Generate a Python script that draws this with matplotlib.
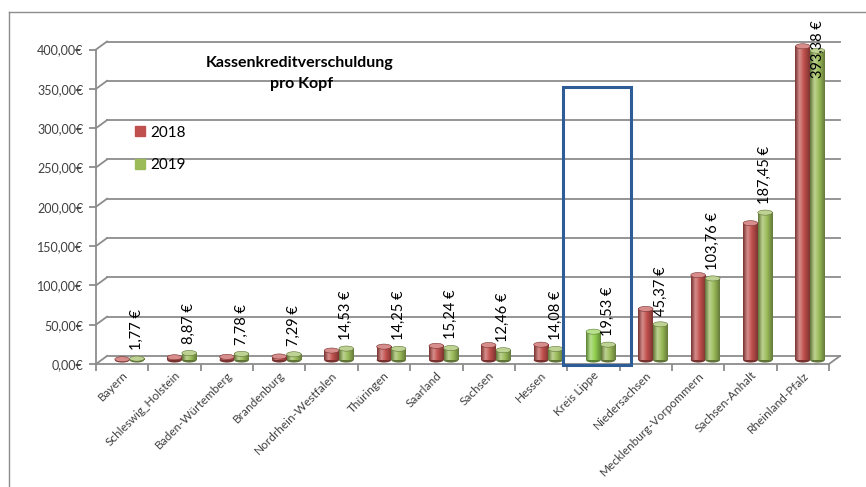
import matplotlib
matplotlib.use("Agg")
import matplotlib.pyplot as plt
import numpy as np
from matplotlib.patches import Ellipse, Rectangle
from matplotlib.lines import Line2D
from matplotlib.colors import to_rgb
import matplotlib.transforms as mtrans

plt.rcParams['font.family'] = ['Lato', 'DejaVu Sans']

categories = ["Bayern", "Schleswig_Holstein", "Baden-Würtemberg", "Brandenburg",
              "Nordrhein-Westfalen", "Thüringen", "Saarland", "Sachsen", "Hessen",
              "Kreis Lippe", "Niedersachsen", "Mecklenburg-Vorpommern",
              "Sachsen-Anhalt", "Rheinland-Pfalz"]
values_2018 = [1.0, 3.5, 4.0, 4.5, 12.0, 17.0, 18.0, 19.0, 19.5, 36.0, 65.0, 108.0, 174.0, 399.0]
values_2019 = [1.77, 8.87, 7.78, 7.29, 14.53, 14.25, 15.24, 12.46, 14.08, 19.53, 45.37, 103.76, 187.45, 393.38]
yticks = [0, 50, 100, 150, 200, 250, 300, 350, 400]
series_names = ["2018", "2019"]
highlight = "Kreis Lippe"

RED = "#C0504D"
GREEN = "#9BBB59"
BRIGHT = "#92D050"
GRID = "#8C8C8C"
TXT = "#404040"

W, H = 866, 487
fig = plt.figure(figsize=(W / 100, H / 100), dpi=100)
fig.patch.set_facecolor("white")

# axes geometry (pixels)
ax_l, ax_r, ax_b, ax_t = 96, 829, 364, 49.5
ax = fig.add_axes([ax_l / W, 1 - ax_b / H, (ax_r - ax_l) / W, (ax_b - ax_t) / H])
ax.set_xlim(-0.5, len(categories) - 0.5)
ax.set_ylim(0, 400)
for s in ax.spines.values():
    s.set_visible(False)
ax.patch.set_alpha(0)

# back wall gridlines (3D look)
back = mtrans.offset_copy(ax.transData, fig=fig, x=11, y=8, units='dots')
mid = mtrans.offset_copy(ax.transData, fig=fig, x=0, y=4, units='dots')
x0, x1 = -0.5, len(categories) - 0.5
for v in yticks:
    ax.plot([x0, x1], [v, v], transform=back, color=GRID, lw=1.3, zorder=1, clip_on=False)
    p0 = ax.transData.transform((x0, v))
    p1 = back.transform((x0, v))
    fig.add_artist(Line2D([p0[0] / W, p1[0] / W], [p0[1] / H, p1[1] / H],
                          color=GRID, lw=1.3, transform=fig.transFigure))
ax.plot([x0, x1], [0, 0], color=GRID, lw=1.3, zorder=1, clip_on=False)
p0 = ax.transData.transform((x1, 0)); p1 = back.transform((x1, 0))
fig.add_artist(Line2D([p0[0] / W, p1[0] / W], [p0[1] / H, p1[1] / H],
                      color=GRID, lw=1.3, transform=fig.transFigure))
ax.plot([x0, x0], [0, 400], color=GRID, lw=1.3, zorder=1, clip_on=False)

ax.set_yticks(yticks)
ax.set_yticklabels([f"{v:.2f}".replace(".", ",") + "€" for v in yticks],
                   fontsize=9, color=TXT)
ax.tick_params(axis='y', length=5, width=1.3, color=GRID, pad=4)

ax.set_xticks(np.arange(len(categories)))
ax.set_xticklabels(categories, rotation=45, ha='right', rotation_mode='anchor',
                   fontsize=8.5, color=TXT)
ax.tick_params(axis='x', length=0, pad=4)
ax.set_xticks(np.arange(len(categories) + 1) - 0.5, minor=True)
ax.tick_params(axis='x', which='minor', length=5, width=1.3, color=GRID)


def shade_img(base):
    b = np.array(to_rgb(base))
    dark = b * 0.62
    light = np.clip(b + (1 - b) * 0.35, 0, 1)
    stops = [(0.0, dark), (0.3, light), (0.6, b), (1.0, dark * 1.05)]
    t = np.linspace(0, 1, 64)
    img = np.zeros((1, 64, 3))
    for c in range(3):
        img[0, :, c] = np.interp(t, [s[0] for s in stops], [s[1][c] for s in stops])
    return img, light, dark


bw = 0.28
cap_h = 6.5


def cylinder(xc, v, base):
    img, light, dark = shade_img(base)
    ax.add_patch(Ellipse((xc, 0), bw, cap_h, facecolor=dark, edgecolor='none',
                         zorder=3, clip_on=False, transform=mid))
    ax.imshow(img, extent=(xc - bw / 2, xc + bw / 2, 0, v), aspect='auto',
              interpolation='bilinear', zorder=3.1, clip_on=False, transform=mid)
    ax.add_patch(Ellipse((xc, v), bw, cap_h, facecolor=light,
                         edgecolor=dark, lw=0.4, zorder=3.2, clip_on=False, transform=mid))


for i, cat in enumerate(categories):
    c18 = BRIGHT if cat == highlight else RED
    cylinder(i + 0.0, values_2018[i], c18)
    cylinder(i + 0.28, values_2019[i], GREEN)
    lab = f"{values_2019[i]:.2f}".replace(".", ",") + " €"
    ly = min(values_2019[i] + 16, 364)
    ax.text(i + 0.28, ly, lab, rotation=90, ha='center', va='bottom',
            fontsize=10.5, color='black', zorder=5)

ax.set_xlim(x0, x1)
ax.set_ylim(0, 400)

# highlight box around Kreis Lippe
k = categories.index(highlight)
ax.add_patch(Rectangle((k - 0.59, -1), 1.3, 353, fill=False, edgecolor="#2E5C97",
                       lw=2.2, zorder=6, clip_on=False))

# title
fig.text(300 / W, 1 - 63 / H, "Kassenkreditverschuldung", ha='center', va='center',
         fontsize=11.5, fontweight='bold', color='black')
fig.text(301 / W, 1 - 84 / H, "pro Kopf", ha='center', va='center',
         fontsize=11.5, fontweight='bold', color='black')

# legend
handles = [Line2D([], [], marker='s', ls='', color=RED, markersize=7),
           Line2D([], [], marker='s', ls='', color=GREEN, markersize=7)]
fig.legend(handles, series_names, loc='upper left', bbox_to_anchor=(126 / W, 1 - 118 / H),
           frameon=False, fontsize=11, handlelength=0.8, handletextpad=0.3,
           labelspacing=1.2, borderpad=0)

# outer chart border (top and left)
fig.add_artist(Line2D([9 / W, 1], [1 - 12 / H, 1 - 12 / H], color=GRID, lw=1,
                      transform=fig.transFigure))
fig.add_artist(Line2D([9 / W, 9 / W], [0, 1 - 12 / H], color=GRID, lw=1,
                      transform=fig.transFigure))

fig.savefig("out.png", dpi=100)
